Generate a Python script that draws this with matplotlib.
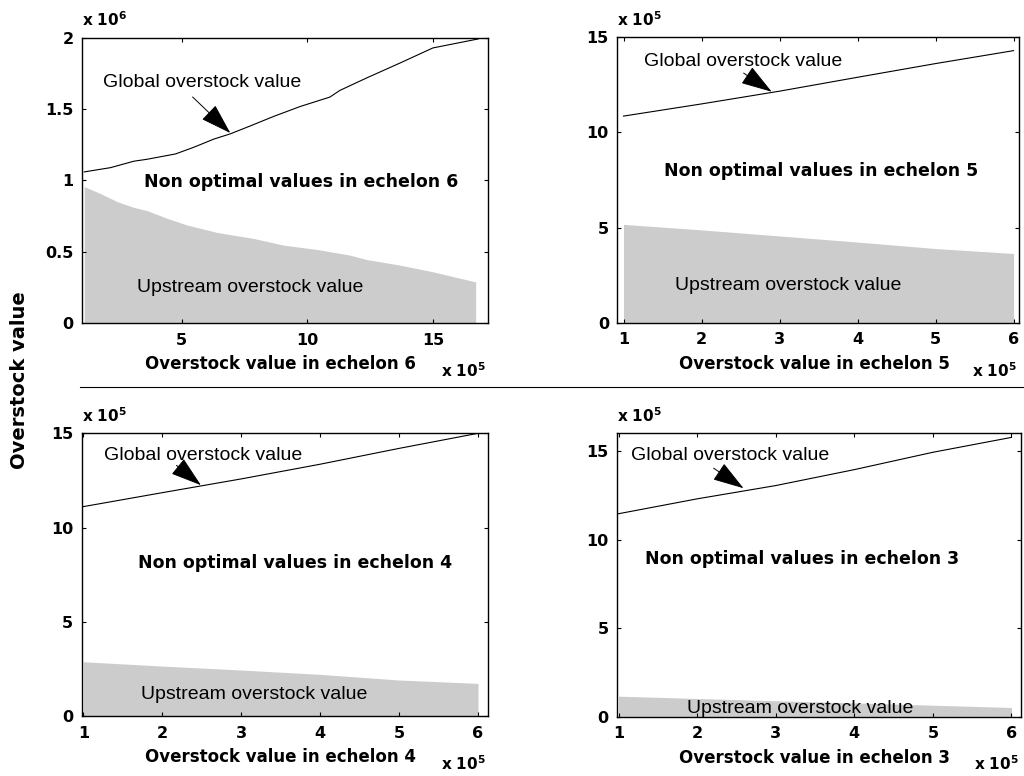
import numpy as np
import matplotlib
matplotlib.use("Agg")
import matplotlib.pyplot as plt
from matplotlib.ticker import FuncFormatter, FixedLocator
from matplotlib.lines import Line2D

# Echelon 6 (x in units of 1e5, y in units of 1e6)
global_x6 = [1.13, 2.18, 3.1, 3.64, 4.76, 5.49, 6.28, 6.94, 7.74, 8.66,
             9.72, 10.9, 11.3, 12.36, 13.69, 15.0, 16.8]
global_y6 = [1.06, 1.09, 1.135, 1.149, 1.186, 1.233, 1.29, 1.327, 1.383,
             1.449, 1.519, 1.585, 1.632, 1.719, 1.824, 1.93, 1.993]
upstream_x6 = [1.13, 1.75, 2.45, 3.1, 3.64, 4.43, 5.23, 6.42, 7.87, 9.06,
               10.38, 11.7, 12.36, 13.69, 15.0, 16.7]
upstream_y6 = [0.957, 0.91, 0.851, 0.811, 0.788, 0.734, 0.687, 0.635, 0.593,
               0.546, 0.516, 0.476, 0.445, 0.406, 0.359, 0.288]

# Echelons 5, 4, 3 (x in units of 1e5, y in units of 1e5)
echelon_x = [1, 2, 3, 4, 5, 6]
global_y5 = [10.86, 11.5, 12.17, 12.9, 13.62, 14.3]
upstream_y5 = [5.17, 4.88, 4.56, 4.24, 3.9, 3.64]
global_y4 = [11.11, 11.85, 12.58, 13.36, 14.2, 15.0]
upstream_y4 = [2.88, 2.65, 2.44, 2.21, 1.91, 1.73]
global_y3 = [11.46, 12.3, 13.05, 13.95, 14.93, 15.77]
upstream_y3 = [1.16, 1.03, 0.9, 0.78, 0.65, 0.52]

FILL = '#cccccc'
BOLD = dict(family='DejaVu Sans', weight='bold')
PLAIN = dict(family='Liberation Sans')

plt.rcParams.update({
    'xtick.direction': 'in', 'ytick.direction': 'in',
    'xtick.top': True, 'ytick.right': True,
    'xtick.major.size': 3, 'ytick.major.size': 3,
    'xtick.major.width': 0.8, 'ytick.major.width': 0.8,
    'xtick.major.pad': 7, 'ytick.major.pad': 6,
    'axes.linewidth': 1.0,
})

fig = plt.figure(figsize=(10.24, 7.76), dpi=100)


def panel(rect, gx, gy, ux, uy, xs, ys, xlim, ylim, xticks, yticks,
          echelon, arrow, txt_pos, ymult):
    ax = fig.add_axes(rect)
    gx = np.array(gx) * xs
    ux = np.array(ux) * xs
    ax.fill_between(ux, 0, np.array(uy) * ys, color=FILL, lw=0)
    ax.plot(gx, np.array(gy) * ys, color='k', lw=0.8)
    ax.set_xlim(xlim[0] * xs, xlim[1] * xs)
    ax.set_ylim(ylim[0] * ys, ylim[1] * ys)
    ax.xaxis.set_major_locator(FixedLocator(np.array(xticks) * xs))
    ax.yaxis.set_major_locator(FixedLocator(np.array(yticks) * ys))
    ax.xaxis.set_major_formatter(FuncFormatter(lambda v, p: f'{v / xs:g}'))
    ax.yaxis.set_major_formatter(FuncFormatter(lambda v, p: f'{v / ys:g}'))
    for lab in ax.get_xticklabels() + ax.get_yticklabels():
        lab.set_fontproperties(dict(BOLD, size=11.5))

    # annotations
    (tx, ty), (hx, hy) = arrow
    ax.annotate('', xy=(hx * xs, hy * ys), xytext=(tx * xs, ty * ys),
                arrowprops=dict(arrowstyle='-|>,head_length=1.1,head_width=0.35',
                                color='k', lw=0.7, mutation_scale=18,
                                shrinkA=0, shrinkB=0))
    (g, n, u) = txt_pos
    ax.text(g[0], g[1], 'Global overstock value', transform=ax.transAxes,
            va='center', ha='left', fontsize=14, **PLAIN)
    ax.text(n[0], n[1], f'Non optimal values in echelon {echelon}',
            transform=ax.transAxes, va='center', ha='left', fontsize=12.5,
            **BOLD)
    ax.text(u[0], u[1], 'Upstream overstock value', transform=ax.transAxes,
            va='center', ha='left', fontsize=14, **PLAIN)

    ax.set_xlabel(f'Overstock value in echelon {echelon}', fontsize=12,
                  **BOLD)
    ax.xaxis.set_label_coords(0.49, -0.145)
    ax.xaxis.label.set_va('center')

    # scale multipliers
    ax.text(0.0, 1.03, r'$\mathbf{x\ 10^{%d}}$' % ymult,
            transform=ax.transAxes, ha='left', va='bottom', fontsize=11)
    ax.text(0.995, -0.2, r'$\mathbf{x\ 10^{5}}$', transform=ax.transAxes,
            ha='right', va='bottom', fontsize=11)
    return ax


panel([0.0798, 0.5838, 0.3970, 0.3673], global_x6, global_y6,
      upstream_x6, upstream_y6, 1e5, 1e6, (1.03, 17.2), (0, 2),
      [5, 10, 15], [0, 0.5, 1, 1.5, 2], 6,
      ((5.44, 1.586), (6.94, 1.333)),
      ((0.052, 0.842), (0.152, 0.495), (0.135, 0.126)), 6)

panel([0.6028, 0.5841, 0.3923, 0.3678], echelon_x, global_y5,
      echelon_x, upstream_y5, 1e5, 1e5, (0.92, 6.07), (0, 15),
      [1, 2, 3, 4, 5, 6], [0, 5, 10, 15], 5,
      ((2.54, 13.12), (2.90, 12.14)),
      ((0.066, 0.917), (0.116, 0.532), (0.143, 0.129)), 5)

panel([0.0798, 0.0773, 0.3970, 0.3643], echelon_x, global_y4,
      echelon_x, upstream_y4, 1e5, 1e5, (0.98, 6.13), (0, 15),
      [1, 2, 3, 4, 5, 6], [0, 5, 10, 15], 4,
      ((2.18, 13.3), (2.49, 12.25)),
      ((0.056, 0.923), (0.138, 0.540), (0.146, 0.077)), 5)

panel([0.6025, 0.0764, 0.3945, 0.3652], echelon_x, global_y3,
      echelon_x, upstream_y3, 1e5, 1e5, (0.98, 6.12), (0, 16),
      [1, 2, 3, 4, 5, 6], [0, 5, 10, 15], 3,
      ((2.21, 14.03), (2.59, 12.9)),
      ((0.035, 0.923), (0.070, 0.556), (0.173, 0.030)), 5)

# divider between the two rows and the shared y label
fig.add_artist(Line2D([0.078, 1.0], [0.5013, 0.5013], color='k', lw=0.8,
                      transform=fig.transFigure))
fig.text(0.0195, 0.51, 'Overstock value', rotation=90, ha='center',
         va='center', fontsize=14, **BOLD)

fig.savefig('out.png', dpi=100)
